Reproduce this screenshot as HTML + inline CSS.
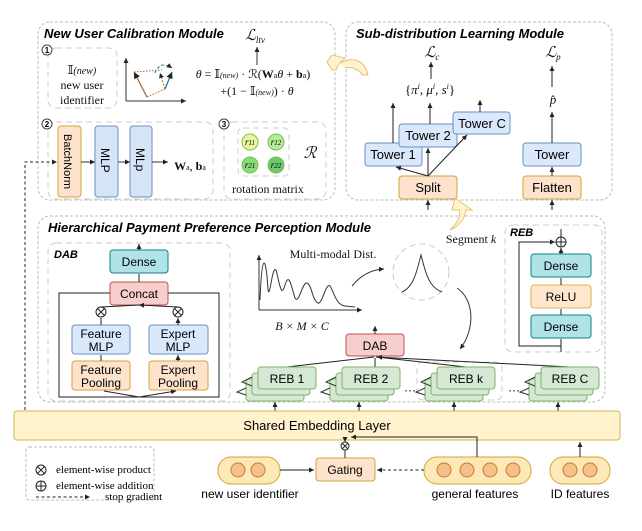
<!DOCTYPE html>
<html><head><meta charset="utf-8"><style>
html,body{margin:0;padding:0;background:#fff}
svg{display:block}
text{font-family:"Liberation Sans",sans-serif}
text.s,.s text{font-family:"Liberation Serif","DejaVu Serif",serif}
</style></head><body>
<svg width="642" height="531" viewBox="0 0 642 531" xmlns="http://www.w3.org/2000/svg">
<defs>
<marker id="a" markerWidth="6" markerHeight="6" refX="5" refY="3" orient="auto"><path d="M0,0.5 L5,3 L0,5.5 Z" fill="#222"/></marker>
</defs>
<g fill="none" stroke="#bbb" stroke-dasharray="3,2">
<rect x="38" y="22" width="297" height="178" rx="12"/>
<rect x="346" y="22" width="266" height="178" rx="12"/>
<rect x="38" y="216" width="567" height="186" rx="12"/>
<rect x="26" y="447" width="128" height="53" rx="3"/>
</g>
<g fill="none" stroke="#ccc" stroke-dasharray="6,4">
<rect x="48" y="48" width="69" height="60" rx="8"/>
<rect x="48" y="122" width="165" height="77" rx="8"/>
<rect x="224" y="122" width="102" height="77" rx="8"/>
<rect x="238" y="128" width="51" height="48" rx="5"/>
<rect x="48" y="243" width="182" height="158" rx="8"/>
<rect x="505" y="225" width="97" height="127" rx="8"/>
<rect x="417" y="362" width="85" height="38" rx="6"/>
<circle cx="421" cy="272" r="28"/>
</g>
<g font-weight="bold" font-style="italic" font-size="13" fill="#000">
<text x="44" y="38">New User Calibration Module</text>
<text x="356" y="38">Sub-distribution Learning Module</text>
<text x="48" y="232">Hierarchical Payment Preference Perception Module</text>
<text x="54" y="258" font-size="11">DAB</text>
<text x="510" y="236" font-size="11">REB</text>
</g>
<g fill="#fff" stroke="#444"><circle cx="47" cy="50" r="5"/><circle cx="47" cy="124" r="5"/><circle cx="224" cy="124" r="5"/></g>
<g font-size="8" text-anchor="middle" font-weight="bold"><text x="47" y="53">1</text><text x="47" y="127">2</text><text x="224" y="127">3</text></g>
<g class="s" font-size="12" text-anchor="middle" fill="#111">
<text x="82" y="74">𝕀<tspan font-style="italic" font-size="10">(new)</tspan></text>
<text x="82" y="89">new user</text>
<text x="82" y="104">identifier</text>
<text x="255" y="40" font-size="15" font-style="italic">ℒ<tspan font-size="9" dy="3">ltv</tspan></text>
<text x="253" y="78" font-size="12"><tspan font-style="italic">θ</tspan> = 𝕀<tspan font-size="8" font-style="italic">(new)</tspan> · ℛ(<tspan font-weight="bold">W</tspan><tspan font-size="8">a</tspan><tspan font-style="italic">θ</tspan> + <tspan font-weight="bold">b</tspan><tspan font-size="8">a</tspan>)</text>
<text x="257" y="95" font-size="12">+(1 − 𝕀<tspan font-size="8" font-style="italic">(new)</tspan>) · <tspan font-style="italic">θ</tspan></text>
<text x="268" y="193">rotation matrix</text>
<text x="310" y="158" font-size="16" font-style="italic">ℛ</text>
<text x="190" y="170" font-size="12"><tspan font-weight="bold">W</tspan><tspan font-size="8">a</tspan>, <tspan font-weight="bold">b</tspan><tspan font-size="8">a</tspan></text>
<text x="432" y="57" font-size="15" font-style="italic">ℒ<tspan font-size="9" dy="3">c</tspan></text>
<text x="553" y="57" font-size="15" font-style="italic">ℒ<tspan font-size="9" dy="3">p</tspan></text>
<text x="430" y="94" font-size="13">{<tspan font-style="italic">π<tspan font-size="8" dy="-5">i</tspan><tspan dy="5">, μ</tspan><tspan font-size="8" dy="-5">i</tspan><tspan dy="5">, s</tspan><tspan font-size="8" dy="-5">i</tspan></tspan><tspan dy="5">}</tspan></text>
<text x="553" y="104" font-size="13" font-style="italic">p̂</text>
<text x="333" y="258" font-size="12">Multi-modal Dist.</text>
<text x="302" y="330" font-style="italic" font-size="12">B × M × C</text>
<text x="471" y="243" font-size="12">Segment <tspan font-style="italic">k</tspan></text>
</g>
<g stroke="#333" fill="none"><path d="M126,101 L126,58" marker-end="url(#a)"/><path d="M126,101 L186,101" marker-end="url(#a)"/></g>
<path d="M147,97 L134,72" stroke="#b5651d" stroke-width="1.3" fill="none" marker-end="url(#a)"/>
<path d="M134,72 L162,70 M147,97 L165,89" stroke="#b5651d" stroke-dasharray="1.5,1.5" fill="none"/>
<path d="M165,89 L172,72" stroke="#1f77a4" stroke-width="1.3" fill="none" marker-end="url(#a)"/>
<path d="M155,73 Q160,60 172,68" stroke="#1f77a4" stroke-dasharray="3,2" fill="none" marker-end="url(#a)"/>
<path d="M165,89 L160,73" stroke="#b5651d" stroke-dasharray="2,1.5" fill="none" marker-end="url(#a)"/>
<path d="M257,65 L257,47" stroke="#333" marker-end="url(#a)"/>
<rect x="58" y="126" width="23" height="71" rx="3" fill="#fde3cc" stroke="#d6a03a"/>
<text transform="translate(64,134) rotate(90)" font-size="11">BatchNorm</text>
<rect x="95" y="126" width="23" height="71" rx="3" fill="#d6e4f7" stroke="#6c8ebf"/>
<text transform="translate(101,148) rotate(90)" font-size="12">MLP</text>
<rect x="130" y="126" width="22" height="71" rx="3" fill="#d6e4f7" stroke="#6c8ebf"/>
<text transform="translate(136,148) rotate(90)" font-size="12">MLp</text>
<g stroke="#333" fill="none" marker-end="url(#a)"><path d="M81,162 L95,162"/><path d="M118,162 L130,162"/><path d="M152,162 L168,162"/></g>
<path d="M25,410 L25,162 L57,162" stroke="#222" stroke-dasharray="3,2.5" fill="none" marker-end="url(#a)"/>
<g stroke="#7cbf4a"><circle cx="250" cy="142" r="8" fill="#e8f6a0"/><circle cx="276" cy="142" r="8" fill="#b5eb9a"/><circle cx="250" cy="165" r="8" fill="#86dc7a"/><circle cx="276" cy="165" r="8" fill="#6cc96e"/></g>
<g class="s" font-size="9" font-style="italic" text-anchor="middle"><text x="250" y="145">r<tspan font-size="7">11</tspan></text><text x="276" y="145">r<tspan font-size="7">12</tspan></text><text x="250" y="168">r<tspan font-size="7">21</tspan></text><text x="276" y="168">r<tspan font-size="7">22</tspan></text></g>
<path d="M345,58 C340,62 337,66 336,70 L332,70 L327,62 L332,55 Z" fill="#fff2cc" stroke="#e3c37a"/>
<path d="M340,63 C355,55 365,62 368,75 L362,75 C360,70 352,66 345,68" fill="#fff2cc" stroke="#e3c37a"/>
<path d="M455,198 L472,210 L466,210 C465,218 460,226 450,230 C458,222 461,216 459,210 L452,210 Z" fill="#fff2cc" stroke="#e3c37a"/>
<g stroke="#6c8ebf" fill="#dae8fc">
<rect x="365" y="143" width="57" height="23" rx="3"/>
<rect x="399" y="124" width="58" height="23" rx="3"/>
<rect x="453" y="112" width="57" height="22" rx="3"/>
<rect x="523" y="143" width="58" height="23" rx="3"/>
</g>
<g stroke="#d6a03a" fill="#fde3cc"><rect x="399" y="176" width="58" height="23" rx="3"/><rect x="523" y="176" width="58" height="23" rx="3"/></g>
<g font-size="13" text-anchor="middle"><text x="393" y="159">Tower 1</text><text x="428" y="140">Tower 2</text><text x="482" y="128">Tower C</text><text x="552" y="159">Tower</text><text x="428" y="192">Split</text><text x="552" y="192">Flatten</text></g>
<g stroke="#222" fill="none" marker-end="url(#a)">
<path d="M428,176 L396,167"/><path d="M428,176 L428,148"/><path d="M428,176 L467,135"/>
<path d="M393,143 L393,103"/><path d="M430,124 L430,103"/><path d="M480,112 L480,100"/><path d="M431,79 L431,62"/>
<path d="M552,176 L552,167"/><path d="M552,143 L552,112"/><path d="M552,87 L552,66"/>
<path d="M428,210 L428,200"/><path d="M552,210 L552,200"/>
</g>
<rect x="110" y="250" width="58" height="23" rx="3" fill="#b0e3e6" stroke="#0e8088"/>
<rect x="110" y="282" width="58" height="23" rx="3" fill="#f8cecc" stroke="#b85450"/>
<rect x="72" y="325" width="58" height="29" rx="3" fill="#dae8fc" stroke="#6c8ebf"/>
<rect x="149" y="325" width="59" height="29" rx="3" fill="#dae8fc" stroke="#6c8ebf"/>
<rect x="72" y="361" width="58" height="29" rx="3" fill="#fde3cc" stroke="#d6a03a"/>
<rect x="149" y="361" width="59" height="29" rx="3" fill="#fde3cc" stroke="#d6a03a"/>
<g font-size="12" text-anchor="middle"><text x="139" y="266">Dense</text><text x="139" y="298">Concat</text>
<text x="101" y="338">Feature</text><text x="101" y="351">MLP</text><text x="178" y="338">Expert</text><text x="178" y="351">MLP</text>
<text x="101" y="374">Feature</text><text x="101" y="387">Pooling</text><text x="178" y="374">Expert</text><text x="178" y="387">Pooling</text></g>
<g stroke="#222" fill="none">
<path d="M110,293 L59,293 L59,397 L219,397 L219,293 L168,293" />
<path d="M139,397 L104,391 M139,397 L176,391" marker-end="url(#a)"/>
<path d="M101,361 L101,355 M178,361 L178,355" marker-end="url(#a)"/>
<path d="M101,325 L101,318 M178,325 L178,318" marker-end="url(#a)"/>
<path d="M101,307 L139,305 M178,307 L139,305" marker-end="url(#a)"/>
<path d="M139,282 L139,274 M139,250 L139,244" marker-end="url(#a)"/>
<circle cx="101" cy="312" r="5" fill="#fff"/><circle cx="178" cy="312" r="5" fill="#fff"/>
<path d="M97.5,308.5 L104.5,315.5 M104.5,308.5 L97.5,315.5 M174.5,308.5 L181.5,315.5 M181.5,308.5 L174.5,315.5"/>
</g>
<g stroke="#333" fill="none">
<path d="M259,310 L259,255" marker-end="url(#a)"/><path d="M259,310 L362,310" marker-end="url(#a)"/>
<path d="M260,300 C262,250 266,255 268,290 C270,300 272,265 276,270 C279,280 281,300 285,285 C289,272 291,285 295,298 C299,305 302,282 307,283 C312,285 312,300 318,303 C322,305 326,282 330,286 C334,292 336,305 345,306 L355,307" />
<path d="M352,286 Q365,270 384,269" marker-end="url(#a)"/>
<path d="M402,292 C414,287 417,270 421,255 C425,270 428,287 442,292"/>
<path d="M457,288 C475,300 475,330 460,349" marker-end="url(#a)"/>
</g>
<rect x="531" y="254" width="60" height="23" rx="3" fill="#b0e3e6" stroke="#0e8088"/>
<rect x="531" y="285" width="60" height="23" rx="3" fill="#ffe6cc" stroke="#d6b656"/>
<rect x="531" y="315" width="60" height="23" rx="3" fill="#b0e3e6" stroke="#0e8088"/>
<g font-size="12" text-anchor="middle"><text x="561" y="270">Dense</text><text x="561" y="301">ReLU</text><text x="561" y="331">Dense</text></g>
<g stroke="#222" fill="none">
<path d="M561,352 L561,339 M561,315 L561,309 M561,285 L561,278 M561,254 L561,248" marker-end="url(#a)"/>
<path d="M561,346 L519,346 L519,242 L555,242" marker-end="url(#a)"/>
<circle cx="561" cy="242" r="5" fill="#fff"/><path d="M556,242 L566,242 M561,237 L561,247 M561,237 L561,229" />
</g>
<rect x="346" y="334" width="58" height="22" rx="3" fill="#f8cecc" stroke="#b85450"/>
<text x="375" y="350" font-size="12" text-anchor="middle">DAB</text>
<g stroke="#222" fill="none">
<path d="M375,334 L375,326" marker-end="url(#a)"/>
<path d="M287,367 L374,357 M375,367 L375,358 M466,367 L376,357 M570,367 L377,357" marker-end="url(#a)"/>
</g>
<g font-size="12" text-anchor="middle">
<g id="st">
<rect x="246" y="379" width="58" height="22" rx="3" fill="#d5e8d4" stroke="#82b366"/>
<rect x="252" y="373" width="58" height="22" rx="3" fill="#d5e8d4" stroke="#82b366"/>
<rect x="258" y="367" width="58" height="22" rx="3" fill="#d5e8d4" stroke="#82b366"/>
<path d="M252,377 L242,382 L252,386 M246,388 L237,392 L246,395" stroke="#333" fill="none"/>
</g>
<text x="287" y="383">REB 1</text>
<use href="#st" x="84"/><text x="371" y="383">REB 2</text>
<use href="#st" x="179"/><text x="466" y="383">REB k</text>
<use href="#st" x="283"/><text x="570" y="383">REB C</text>
</g>
<text x="404" y="394" font-size="12">···</text><text x="508" y="394" font-size="12">···</text>
<g stroke="#222" fill="none" marker-end="url(#a)">
<path d="M275,411 L275,402"/><path d="M359,411 L359,402"/><path d="M454,411 L454,402"/><path d="M558,411 L558,402"/>
</g>
<rect x="14" y="411" width="606" height="29" rx="3" fill="#fff2cc" stroke="#d6b656"/>
<text x="317" y="430" font-size="13" text-anchor="middle">Shared Embedding Layer</text>
<g stroke="#222" fill="none"><circle cx="41" cy="470" r="5"/><path d="M37.5,466.5 L44.5,473.5 M44.5,466.5 L37.5,473.5"/>
<circle cx="41" cy="486" r="5"/><path d="M36,486 L46,486 M41,481 L41,491"/>
<path d="M36,497 L90,497" stroke-dasharray="3,2.5" marker-end="url(#a)"/></g>
<g class="s" font-size="11"><text x="56" y="473">element-wise product</text><text x="56" y="489">element-wise addition</text><text x="105" y="500">stop gradient</text></g>
<g fill="#fde9b8" stroke="#d6a03a">
<rect x="218" y="457" width="62" height="27" rx="13"/>
<rect x="424" y="457" width="107" height="27" rx="13"/>
<rect x="550" y="457" width="60" height="27" rx="13"/>
</g>
<g fill="#f6c08a" stroke="#c67a2a">
<circle cx="238" cy="470" r="7"/><circle cx="258" cy="470" r="7"/>
<circle cx="444" cy="470" r="7"/><circle cx="467" cy="470" r="7"/><circle cx="490" cy="470" r="7"/><circle cx="513" cy="470" r="7"/>
<circle cx="570" cy="470" r="7"/><circle cx="590" cy="470" r="7"/>
</g>
<rect x="316" y="458" width="59" height="23" rx="3" fill="#fde3cc" stroke="#d6a03a"/>
<text x="345" y="474" font-size="12" text-anchor="middle">Gating</text>
<g font-size="12" text-anchor="middle"><text x="250" y="498">new user identifier</text><text x="475" y="498">general features</text><text x="580" y="498">ID features</text></g>
<g stroke="#222" fill="none">
<path d="M280,470 L314,470" marker-end="url(#a)"/>
<path d="M424,470 L377,470" stroke-dasharray="3,2.5" marker-end="url(#a)"/>
<path d="M477,457 L477,437 L351,437" marker-end="url(#a)"/>
<path d="M580,457 L580,442" marker-end="url(#a)"/>
<path d="M345,458 L345,450 M345,437 L345,442" marker-end="url(#a)"/>
<circle cx="345" cy="446" r="4" fill="#fff"/><path d="M342,443 L348,449 M348,443 L342,449"/>
</g>
</svg>
</body></html>
